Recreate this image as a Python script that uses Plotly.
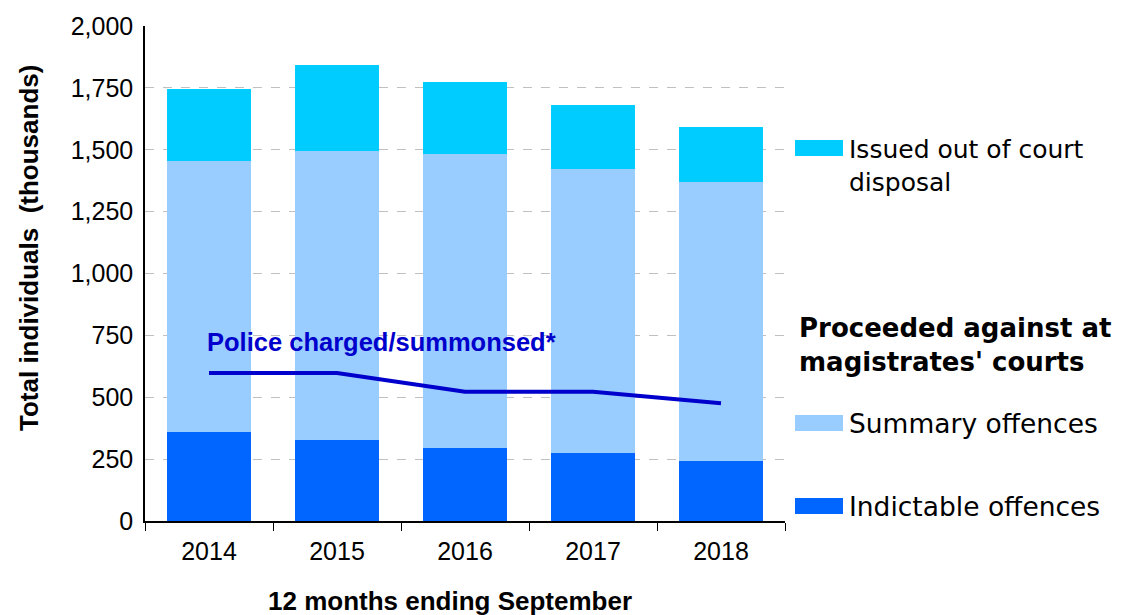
import plotly.graph_objects as go

years = ["2014", "2015", "2016", "2017", "2018"]
indictable = [360, 328, 296, 275, 243]
summary = [1095, 1166, 1186, 1147, 1128]
out_of_court = [290, 348, 290, 258, 219]
police_charged = [598, 598, 522, 522, 476]

FONT = "Liberation Sans, Arial, sans-serif"
WIDE = "DejaVu Sans, sans-serif"
C_OOC = "#00CCFF"
C_SUM = "#99CCFF"
C_IND = "#0066FF"
C_LINE = "#0000CC"

fig = go.Figure()
fig.add_trace(go.Bar(x=years, y=indictable, name="Indictable offences",
                     marker=dict(color=C_IND, line=dict(width=0))))
fig.add_trace(go.Bar(x=years, y=summary, name="Summary offences",
                     marker=dict(color=C_SUM, line=dict(width=0))))
fig.add_trace(go.Bar(x=years, y=out_of_court, name="Issued out of court disposal",
                     marker=dict(color=C_OOC, line=dict(width=0))))
fig.add_trace(go.Scatter(x=years, y=police_charged, mode="lines",
                         line=dict(color=C_LINE, width=4), name="Police charged/summonsed*"))

# page body has an 8px margin, so the figure sits at (8, 8)
fig.update_layout(
    width=1113, height=607,
    margin=dict(l=137, r=336, t=18, b=94),
    barmode="stack", bargap=0.344,
    showlegend=False,
    plot_bgcolor="white", paper_bgcolor="white",
    font=dict(family=FONT, size=25, color="#000000"),
)
fig.update_xaxes(
    type="category", range=[-0.5, 4.5], autorange=False, automargin=False,
    showline=True, linecolor="#000000", linewidth=1.5,
    ticks="outside", tickson="boundaries", ticklen=8, tickcolor="#000000",
    ticklabelstandoff=7,
    tickfont=dict(size=25, family=FONT), showgrid=False,
)
fig.update_yaxes(
    range=[0, 2000], autorange=False, automargin=False, dtick=250, tickformat=",",
    showline=True, linecolor="#000000", linewidth=1.5,
    showgrid=True, gridcolor="#C0C0C0", griddash="dash", gridwidth=1,
    ticks="", ticklabelstandoff=5, tickfont=dict(size=25, family=FONT),
    zeroline=False,
)

# helpers: page pixel -> paper coordinates (plot area spans x 145-785, y 26-521)
def px_x(px):
    return (px - 145) / 640.0

def px_y(py):
    return (521 - py) / 495.0

# axis titles
fig.add_annotation(text="<b>12 months ending September</b>", xref="paper", yref="paper",
                   x=px_x(450), y=px_y(601), xanchor="center", yanchor="middle", showarrow=False,
                   font=dict(size=26, family=FONT))
fig.add_annotation(text="<b>Total individuals  (thousands)</b>", xref="paper", yref="paper",
                   x=px_x(29), y=px_y(248), textangle=-90, xanchor="center", yanchor="middle",
                   showarrow=False, font=dict(size=26, family=FONT))

# line label (anchored to the first category)
fig.add_annotation(text="<b>Police charged/summonsed*</b>", xref="x", yref="y", x=0, y=723,
                   xanchor="left", yanchor="middle", xshift=-4, showarrow=False,
                   font=dict(size=25.5, family=FONT, color=C_LINE))

# legend (manual)
def swatch(y_px, color):
    fig.add_shape(type="rect", xref="paper", yref="paper",
                  x0=px_x(795), x1=px_x(843), y0=px_y(y_px + 8), y1=px_y(y_px - 8),
                  fillcolor=color, line=dict(width=0))

swatch(148, C_OOC)
fig.add_annotation(text="Issued out of court<br>disposal", xref="paper", yref="paper",
                   x=px_x(847), y=px_y(166), xanchor="left", yanchor="middle", align="left",
                   showarrow=False, font=dict(size=25, family=WIDE, color="#000000"))
fig.add_annotation(text="<b>Proceeded against at<br>magistrates' courts</b>", xref="paper", yref="paper",
                   x=px_x(797), y=px_y(345), xanchor="left", yanchor="middle", align="left",
                   showarrow=False, font=dict(size=26, family=WIDE, color="#000000"))
swatch(423, C_SUM)
fig.add_annotation(text="Summary offences", xref="paper", yref="paper",
                   x=px_x(847), y=px_y(423), xanchor="left", yanchor="middle", align="left",
                   showarrow=False, font=dict(size=26.5, family=WIDE, color="#000000"))
swatch(506, C_IND)
fig.add_annotation(text="Indictable offences", xref="paper", yref="paper",
                   x=px_x(847), y=px_y(506), xanchor="left", yanchor="middle", align="left",
                   showarrow=False, font=dict(size=26.5, family=WIDE, color="#000000"))

fig.write_html("out.html")
